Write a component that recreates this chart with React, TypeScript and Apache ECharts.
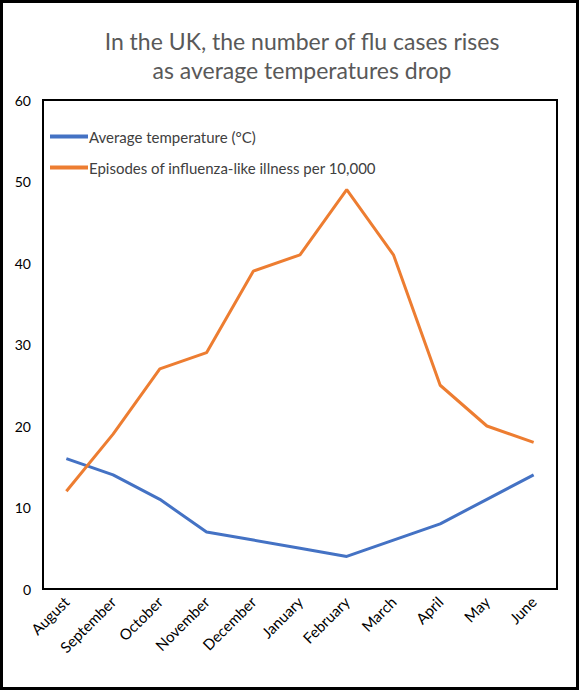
import React, { useEffect, useRef } from 'react';
import * as echarts from 'echarts';

const months = ['August', 'September', 'October', 'November', 'December', 'January', 'February', 'March', 'April', 'May', 'June'];
const avgTemperature = [16, 14, 11, 7, 6, 5, 4, 6, 8, 11, 14];
const fluEpisodes = [12, 19, 27, 29, 39, 41, 49, 41, 25, 20, 18];

const font = 'Lato, "Open Sans", sans-serif';

const App: React.FC = () => {
  const chartRef = useRef<HTMLDivElement>(null);

  useEffect(() => {
    document.body.style.margin = '0';
    const chart = echarts.init(chartRef.current!, undefined, { renderer: 'svg' });

    chart.setOption({
      animation: false,
      textStyle: { fontFamily: font },
      title: {
        text: 'In the UK, the number of flu cases rises\nas average temperatures drop',
        left: 294,
        top: 18,
        textAlign: 'center',
        textStyle: { fontFamily: font, fontSize: 23, fontWeight: 'normal', color: '#595959', lineHeight: 29 }
      },
      legend: {
        orient: 'vertical',
        left: 42,
        top: 121,
        itemWidth: 38,
        itemHeight: 4,
        itemGap: 16,
        icon: 'rect',
        textStyle: { fontFamily: font, fontSize: 15, color: '#404040', padding: [0, 0, 0, -4] },
        data: ['Average temperature (°C)', 'Episodes of influenza-like illness per 10,000']
      },
      grid: {
        left: 40,
        right: 19,
        top: 97,
        bottom: 98,
        show: true,
        borderColor: '#000',
        borderWidth: 2,
        containLabel: false
      },
      xAxis: {
        type: 'category',
        data: months,
        boundaryGap: true,
        axisLine: { show: false },
        axisTick: { show: false },
        axisLabel: { rotate: 45, fontSize: 15, color: '#000', fontFamily: font, margin: 10 }
      },
      yAxis: {
        type: 'value',
        min: 0,
        max: 60,
        interval: 10,
        axisLine: { show: false },
        axisTick: { show: false },
        splitLine: { show: false },
        axisLabel: { fontSize: 14, color: '#000', fontFamily: font, margin: 12 }
      },
      series: [
        {
          name: 'Average temperature (°C)',
          type: 'line',
          data: avgTemperature,
          symbol: 'none',
          lineStyle: { color: '#4472C4', width: 3 },
          itemStyle: { color: '#4472C4' }
        },
        {
          name: 'Episodes of influenza-like illness per 10,000',
          type: 'line',
          data: fluEpisodes,
          symbol: 'none',
          lineStyle: { color: '#ED7D31', width: 3 },
          itemStyle: { color: '#ED7D31' }
        }
      ]
    });

    return () => {
      chart.dispose();
    };
  }, []);

  return (
    <div style={{ width: 579, height: 690, border: '3px solid #000', boxSizing: 'border-box', background: '#fff', position: 'relative' }}>
      <div ref={chartRef} style={{ position: 'absolute', left: 0, top: 0, width: 573, height: 684 }}></div>
    </div>
  );
};

export default App;
